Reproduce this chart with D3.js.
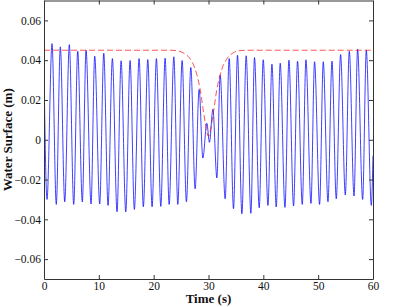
<!DOCTYPE html>
<html>
<head>
<meta charset="utf-8">
<title>Water Surface</title>
<script src="https://cdn.jsdelivr.net/npm/d3@7"></script>
<style>
  body, html { margin: 0; background: #fff; overflow: hidden; }
  .wave { fill: none; stroke: #0000ff; stroke-width: 0.75; }
  .env { fill: none; stroke: #ff0000; stroke-width: 0.9; stroke-dasharray: 6,3; opacity: 0.75; }
</style>
</head>
<body>
<div id="chart"></div>
<script>
// width and height
var w = 399, h = 307;
var margin = {left: 44, right: 26, top: 0.5, bottom: 28};
var serif = "'Liberation Serif', 'Times New Roman', 'DejaVu Serif', serif";

// wave crests / troughs (time s, level m)
var waveTime = [0, 0.55, 1.46, 2.24, 2.98, 3.78, 4.62, 5.42, 6.15, 6.99, 7.67, 8.58, 9.25, 10.16, 10.90,
  11.68, 12.47, 13.32, 14.06, 14.91, 15.70, 16.48, 17.34, 18.12, 18.93, 19.71, 20.50, 21.30, 22.09, 22.82,
  23.68, 24.40, 25.19, 25.97, 26.78, 27.56, 28.29, 28.97, 29.70, 30.17, 30.80, 31.53, 32.13, 33.04, 33.77,
  34.56, 35.29, 36.09, 36.87, 37.73, 38.39, 39.25, 39.98, 40.84, 41.57, 42.35, 43.08, 43.94, 44.67, 45.51,
  46.24, 47.10, 47.77, 48.69, 49.34, 50.26, 50.93, 51.79, 52.52, 53.30, 54.09, 54.95, 55.68, 56.54, 57.19,
  58.11, 58.78, 59.69, 60];
var waveLevel = [0.035, -0.030, 0.0483, -0.0325, 0.0467, -0.0312, 0.0478, -0.0325, 0.0445, -0.0313, 0.045,
  -0.0323, 0.042, -0.0323, 0.0435, -0.033, 0.0408, -0.0362, 0.0397, -0.0363, 0.0398, -0.035, 0.0408, -0.0337,
  0.0403, -0.0337, 0.0408, -0.0335, 0.041, -0.0325, 0.0417, -0.0325, 0.0398, -0.0312, 0.0363, -0.0247, 0.0253,
  -0.0092, 0.0083, -0.0013, 0.0153, -0.0192, 0.0325, -0.0297, 0.0408, -0.0347, 0.0425, -0.0372, 0.0422, -0.037,
  0.0413, -0.0342, 0.0402, -0.033, 0.038, -0.0338, 0.0385, -0.034, 0.04, -0.0333, 0.0395, -0.0325, 0.0402,
  -0.032, 0.0392, -0.0325, 0.0392, -0.0312, 0.0395, -0.0297, 0.0428, -0.0278, 0.0445, -0.0283, 0.0455, -0.030,
  0.045, -0.033, -0.008];

// dashed envelope
var envTime = [0, 23, 24.5, 25.5, 26.5, 27.5, 28.5, 29.2, 30, 30.8, 31.5, 32.5, 33.5, 34.5, 35.5, 37, 60];
var envLevel = [0.045, 0.045, 0.0446, 0.0435, 0.0412, 0.036, 0.025, 0.012, 0.0017, 0.012, 0.025, 0.036,
  0.0412, 0.0437, 0.0447, 0.045, 0.045];

var xTicks = [0, 10, 20, 30, 40, 50, 60];
var yTicks = [-0.06, -0.04, -0.02, 0, 0.02, 0.04, 0.06];

var x = d3.scaleLinear().domain([0, 60]).range([margin.left, w - margin.right]);
var y = d3.scaleLinear().domain([-0.07, 0.07]).range([h - margin.bottom, margin.top]);

var svg = d3.select("#chart").append("svg")
  .attr("width", w)
  .attr("height", h);

var fmt = function (d) { return d === 0 ? "0" : d3.format(".2f")(d).replace("-", "\u2212"); };

// clip so the lines stay inside the box
svg.append("clipPath").attr("id", "clip")
  .append("rect")
  .attr("x", x(0)).attr("y", y(0.07))
  .attr("width", x(60) - x(0)).attr("height", y(-0.07) - y(0.07));

var plot = svg.append("g").attr("clip-path", "url(#clip)");

var line = d3.line()
  .x(function (d) { return x(d[0]); })
  .y(function (d) { return y(d[1]); })
  .curve(d3.curveMonotoneX);

plot.append("path")
  .datum(d3.zip(waveTime, waveLevel))
  .attr("class", "wave")
  .attr("d", line);

plot.append("path")
  .datum(d3.zip(envTime, envLevel))
  .attr("class", "env")
  .attr("d", line);

// axes, matlab style with inward ticks on all four sides
var tk = 4;
function styleAxis(g) {
  g.attr("font-family", serif).attr("font-size", 11.5);
  g.select(".domain").attr("stroke", "#333");
  g.selectAll(".tick line").attr("stroke", "#333");
  g.selectAll(".tick text").attr("fill", "#111");
}

svg.append("g")
  .attr("transform", "translate(0," + y(-0.07) + ")")
  .call(d3.axisBottom(x).tickValues(xTicks).tickSizeInner(-tk).tickSizeOuter(0).tickPadding(3).tickFormat(d3.format("d")))
  .call(styleAxis);

svg.append("g")
  .attr("transform", "translate(0," + y(0.07) + ")")
  .call(d3.axisTop(x).tickValues(xTicks).tickSizeInner(-tk).tickSizeOuter(0).tickFormat(""))
  .call(styleAxis);

svg.append("g")
  .attr("transform", "translate(" + x(0) + ",0)")
  .call(d3.axisLeft(y).tickValues(yTicks).tickSizeInner(-tk).tickSizeOuter(0).tickPadding(3).tickFormat(fmt))
  .call(styleAxis);

svg.append("g")
  .attr("transform", "translate(" + x(60) + ",0)")
  .call(d3.axisRight(y).tickValues(yTicks).tickSizeInner(-tk).tickSizeOuter(0).tickFormat(""))
  .call(styleAxis);

// axis titles
svg.append("text")
  .attr("x", (x(0) + x(60)) / 2)
  .attr("y", 303)
  .attr("text-anchor", "middle")
  .attr("font-family", serif).attr("font-size", 13).attr("font-weight", "bold").attr("fill", "#111")
  .text("Time (s)");

svg.append("text")
  .attr("transform", "translate(12," + y(0) + ") rotate(-90)")
  .attr("text-anchor", "middle")
  .attr("font-family", serif).attr("font-size", 13).attr("font-weight", "bold").attr("fill", "#111")
  .text("Water Surface (m)");
</script>
</body>
</html>
